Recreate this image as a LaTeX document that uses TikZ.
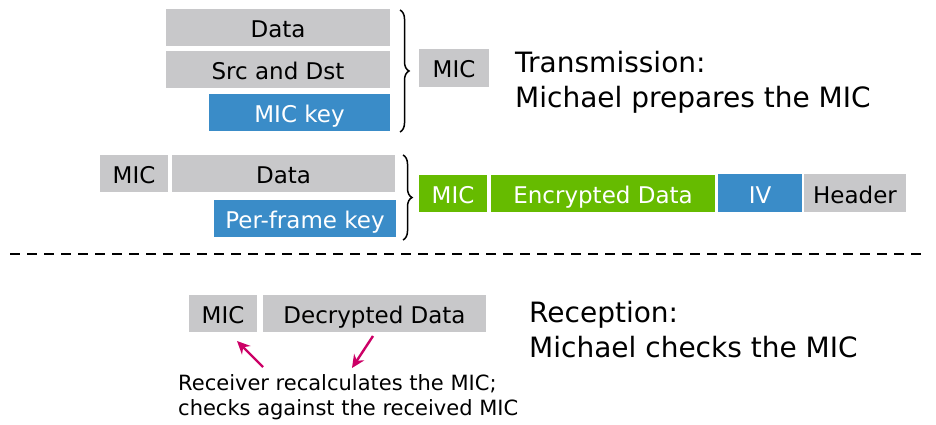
\documentclass[tikz,border=0pt]{standalone}
\usepackage{fontspec}
\setmainfont{DejaVu Sans}
\usetikzlibrary{decorations.pathreplacing,arrows.meta}
\definecolor{fieldgray}{RGB}{200,200,202}
\definecolor{fieldblue}{RGB}{58,140,200}
\definecolor{fieldgreen}{RGB}{102,187,0}
\definecolor{pointer}{RGB}{204,0,102}
\tikzset{
  field/.style={inner sep=0pt, outer sep=0pt, text height=22pt, text depth=2pt,
    font=\fontsize{23}{25}\selectfont},
  grayfield/.style={field, fill=fieldgray, text=black},
  bluefield/.style={field, fill=fieldblue, text=white},
  greenfield/.style={field, fill=fieldgreen, text=white},
  curly/.style={decorate, decoration={brace, amplitude=9pt}, line width=1.5pt},
  caption/.style={anchor=west, align=left, inner sep=0pt, font=\fontsize{28}{35}\selectfont},
  note/.style={anchor=west, align=left, inner sep=0pt, font=\fontsize{21}{25}\selectfont},
  pointerarrow/.style={draw=pointer, line width=2.4pt, -{Stealth[length=13pt,width=12pt]}}
}
\begin{document}
\begin{tikzpicture}[x=1pt,y=-1pt]
\useasboundingbox (0,0) rectangle (936,425);

% --- transmission: inputs to Michael
\node[grayfield, minimum width=224pt, minimum height=37pt] (d1) at (278,27.5) {Data};
\node[grayfield, minimum width=224pt, minimum height=37pt] (sd) at (278,69.5) {Src and Dst};
\node[bluefield, minimum width=181pt, minimum height=37pt] (mk) at (299.5,112.5) {MIC key};
\draw[curly] (400,10) -- (400,132);
\node[grayfield, minimum width=70pt, minimum height=38pt] (mic1) at (454,68) {MIC};
\node[caption] (tx) at (515,82) {Transmission:\\Michael prepares the MIC};

% --- transmission: encryption
\node[grayfield, minimum width=68pt, minimum height=37pt] (mic2) at (134,173.5) {MIC};
\node[grayfield, minimum width=223pt, minimum height=37pt] (d2) at (283.5,173.5) {Data};
\node[bluefield, minimum width=182pt, minimum height=37pt] (pfk) at (305,218.5) {Per-frame key};
\draw[curly] (403,155) -- (403,240);
\node[greenfield, minimum width=68pt, minimum height=37pt] (gmic) at (453,193.5) {MIC};
\node[greenfield, minimum width=224pt, minimum height=37pt] (enc) at (603,193.5) {Encrypted Data};
\node[bluefield, minimum width=84pt, minimum height=38pt] (iv) at (760,193) {IV};
\node[grayfield, minimum width=102pt, minimum height=38pt] (hdr) at (855,193) {Header};

% --- separator
\draw[line width=2.5pt, dash pattern=on 10pt off 7pt] (10,254) -- (928,254);

% --- reception
\node[grayfield, minimum width=68pt, minimum height=37pt] (rmic) at (223,313.5) {MIC};
\node[grayfield, minimum width=223pt, minimum height=37pt] (dec) at (374.5,313.5) {Decrypted Data};
\node[caption] (rx) at (529,330) {Reception:\\Michael checks the MIC};

\coordinate (t1) at (263,367);
\coordinate (h1) at (237,341);
\coordinate (t2) at (373,336);
\coordinate (h2) at (352,368);
\draw[pointerarrow] (t1) -- (h1);
\draw[pointerarrow] (t2) -- (h2);
\node[note] (nt) at (178,397) {Receiver recalculates the MIC;\\checks against the received MIC};
\end{tikzpicture}
\end{document}
